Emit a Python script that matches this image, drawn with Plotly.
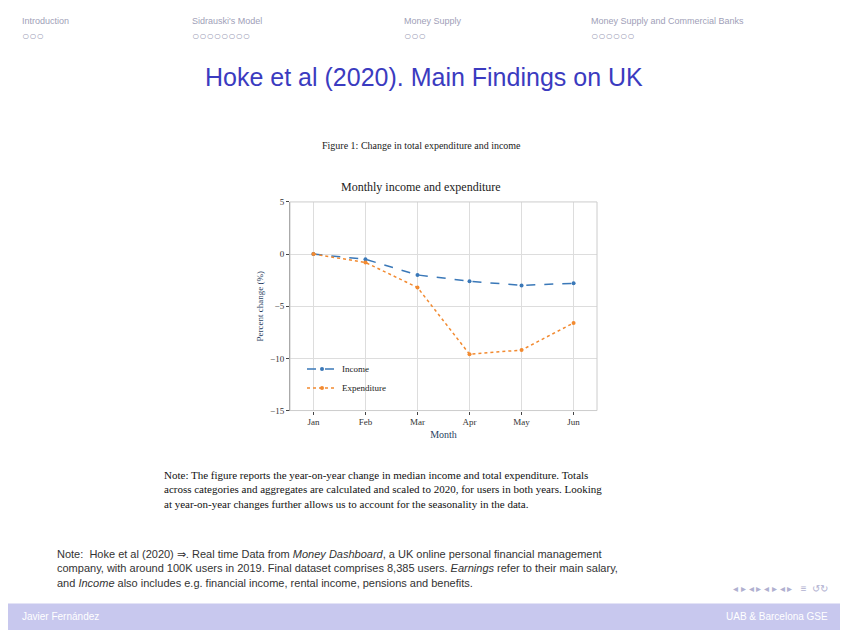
import plotly.graph_objects as go

months = ["Jan", "Feb", "Mar", "Apr", "May", "Jun"]
income = [0, -0.5, -2.0, -2.6, -3.0, -2.8]
expenditure = [0, -0.8, -3.2, -9.6, -9.2, -6.6]
y_ticks = [5, 0, -5, -10, -15]

fig = go.Figure()
fig.add_trace(go.Scatter(x=months, y=income, name="Income", mode="lines+markers",
    line=dict(color="#3a78b8", width=1.5, dash="dash"), marker=dict(size=4)))
fig.add_trace(go.Scatter(x=months, y=expenditure, name="Expenditure", mode="lines+markers",
    line=dict(color="#f28a30", width=1.5, dash="dot"), marker=dict(size=4)))

W, H = 832, 627
OFF = 8
def px(x): return (x - OFF) / W
def py(y): return 1 - (y - OFF) / H

serif = "Liberation Serif"
sans = "Liberation Sans"
fig.update_layout(
    width=W, height=H, margin=dict(l=0, r=0, t=0, b=0),
    paper_bgcolor="white", plot_bgcolor="white", showlegend=True,
    legend=dict(x=px(302), y=py(355), xanchor="left", yanchor="top", bgcolor="rgba(0,0,0,0)",
        font=dict(family=serif, size=9, color="#222"), tracegroupgap=0),
    xaxis=dict(domain=[px(290), px(597)], range=[-0.45, 5.45], showgrid=True, gridcolor="#ddd",
        tickfont=dict(family=serif, size=9, color="#333"), ticks="outside", ticklen=3,
        title=dict(text="Month", font=dict(family=serif, size=10), standoff=4), showline=False),
    yaxis=dict(domain=[py(412), py(200)], range=[-15, 5], tickvals=y_ticks, showgrid=True, gridcolor="#ddd",
        tickfont=dict(family=serif, size=9, color="#333"), ticks="outside", ticklen=3, zeroline=False,
        showline=True, linecolor="#888", mirror=False,
        title=dict(text="Percent change (%)", font=dict(family=serif, size=9), standoff=4)),
)
fig.add_shape(type="rect", xref="paper", yref="paper", x0=px(290), x1=px(597), y0=py(412), y1=py(200),
    line=dict(color="#ccc", width=1))
fig.add_shape(type="rect", xref="paper", yref="paper", x0=0, x1=1, y0=0, y1=py(608),
    fillcolor="#c8c8ee", line=dict(width=0), layer="below")

def ann(x, y, text, size, color="#000", family=sans, xanchor="left", align="left"):
    fig.add_annotation(xref="paper", yref="paper", x=px(x), y=py(y), text=text, showarrow=False,
        font=dict(family=family, size=size, color=color), xanchor=xanchor, yanchor="middle", align=align)

nav = [("Introduction", 20, "○○○"), ("Sidrauski's Model", 190, "○○○○○○○○"),
       ("Money Supply", 402, "○○○"), ("Money Supply and Commercial Banks", 589, "○○○○○○")]
for t, x, d in nav:
    ann(x, 16, t, 9, "#a0a0b8")
    ann(x, 31, d, 12, "#a0a0b8")
ann(424, 73, "Hoke et al (2020). Main Findings on UK", 25, "#3b3bc0", xanchor="center")
ann(421, 143, "Figure 1: Change in total expenditure and income", 10, "#222", serif, xanchor="center")
ann(421, 185, "Monthly income and expenditure", 12, "#222", serif, xanchor="center")
ann(162, 492, "Note: The figure reports the year-on-year change in median income and total expenditure. Totals<br>"
    "across categories and aggregates are calculated and scaled to 2020, for users in both years. Looking<br>"
    "at year-on-year changes further allows us to account for the seasonality in the data.", 11, "#111", serif)
ann(55, 572, "Note:  Hoke et al (2020) ⇒. Real time Data from <i>Money Dashboard</i>, a UK online personal financial management<br>"
    "company, with around 100K users in 2019. Final dataset comprises 8,385 users. <i>Earnings</i> refer to their main salary,<br>"
    "and <i>Income</i> also includes e.g. financial income, rental income, pensions and benefits.", 11, "#333")
ann(20, 621, "Javier Fernández", 10, "white")
ann(830, 621, "UAB & Barcelona GSE", 10, "white", xanchor="right")
ann(830, 593, "◂ ▸ ◂ ▸ ◂ ▸ ◂ ▸   ≡  ↺↻", 10, "#b0b0d0", xanchor="right")

fig.write_html("out.html")
